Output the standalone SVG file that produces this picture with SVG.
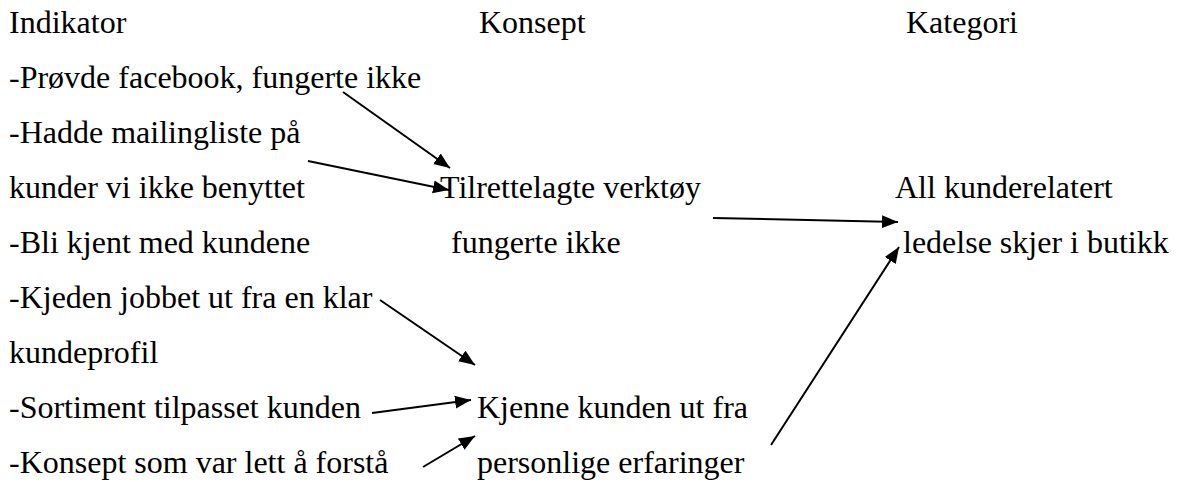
<svg xmlns="http://www.w3.org/2000/svg" width="1181" height="482" viewBox="0 0 1181 482">
  <defs>
    <style>
      .t { font-family: 'Liberation Serif', 'Times New Roman', Times, serif; font-size: 32px; fill: #000; }
      .conn { stroke: #000; stroke-width: 2; fill: none; marker-end: url(#head); }
    </style>
    <marker id="head" markerUnits="userSpaceOnUse" markerWidth="17" markerHeight="14" refX="16" refY="7" orient="auto">
      <path d="M0,0.5 L16,7 L0,13.5 z" fill="#000"/>
    </marker>
  </defs>
  <rect width="1181" height="482" fill="#fff"/>

  <g class="t">
    <!-- column headings -->
    <g id="headings">
      <text x="9" y="32.5">Indikator</text>
      <text x="479" y="32.5">Konsept</text>
      <text x="906" y="32.5">Kategori</text>
    </g>

    <!-- indicators -->
    <g id="ind-facebook"><text x="9" y="87.6">-Prøvde facebook, fungerte ikke</text></g>
    <g id="ind-mailing">
      <text x="9" y="142.7">-Hadde mailingliste på</text>
      <text x="9" y="197.8">kunder vi ikke benyttet</text>
    </g>
    <g id="ind-kjent"><text x="9" y="252.9">-Bli kjent med kundene</text></g>
    <g id="ind-kjeden">
      <text x="9" y="308">-Kjeden jobbet ut fra en klar</text>
      <text x="9" y="363.1">kundeprofil</text>
    </g>
    <g id="ind-sortiment"><text x="9" y="418.2">-Sortiment tilpasset kunden</text></g>
    <g id="ind-konsept"><text x="9" y="473.3">-Konsept som var lett å forstå</text></g>

    <!-- concepts -->
    <g id="kon-verktoy">
      <text x="440" y="197.8">Tilrettelagte verktøy</text>
      <text x="451" y="252.9">fungerte ikke</text>
    </g>
    <g id="kon-kjenne">
      <text x="477" y="418.2">Kjenne kunden ut fra</text>
      <text x="477" y="473.3">personlige erfaringer</text>
    </g>

    <!-- category -->
    <g id="kat-ledelse">
      <text x="895" y="197.8">All kunderelatert</text>
      <text x="903" y="252.9">ledelse skjer i butikk</text>
    </g>
  </g>

  <!-- connectors -->
  <g id="connectors">
    <line class="conn" x1="343" y1="92" x2="450" y2="168"/>
    <line class="conn" x1="308" y1="161" x2="449" y2="190"/>
    <line class="conn" x1="713" y1="218" x2="898" y2="222"/>
    <line class="conn" x1="771" y1="445" x2="899" y2="247"/>
    <line class="conn" x1="380" y1="300" x2="475" y2="365"/>
    <line class="conn" x1="372" y1="413" x2="471" y2="400"/>
    <line class="conn" x1="423" y1="467" x2="475" y2="436"/>
  </g>
</svg>
